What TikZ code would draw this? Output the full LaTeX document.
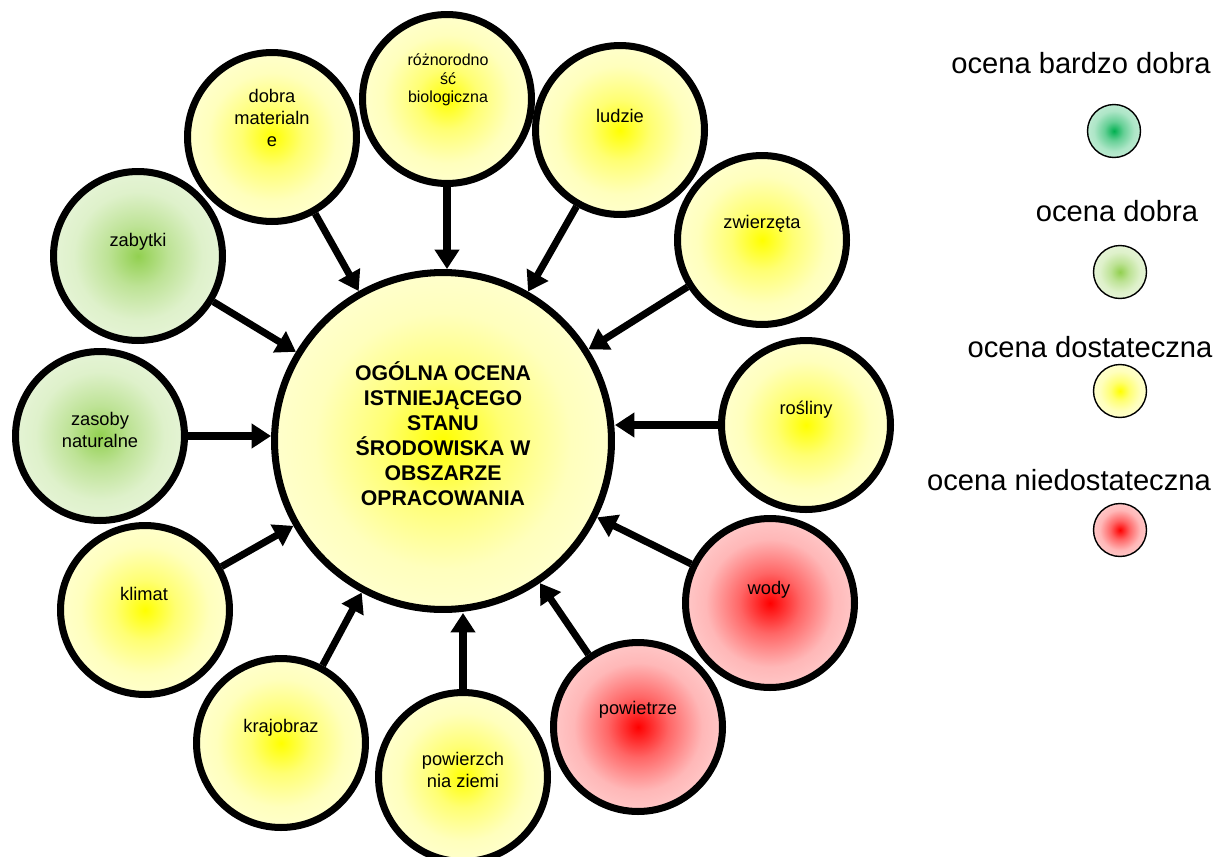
\documentclass[tikz,border=0pt]{standalone}
\usepackage{fontspec}
\setmainfont{Liberation Sans}
\usetikzlibrary{arrows.meta}

\definecolor{midyellow}{RGB}{255,255,0}
\definecolor{goodgreen}{RGB}{146,208,80}
\definecolor{bestgreen}{RGB}{0,176,80}
\definecolor{badred}{RGB}{255,0,0}

% radial fills, strong centre fading towards the rim
\pgfdeclareradialshading{sunshade}{\pgfpointorigin}{color(0bp)=(midyellow); color(9bp)=(midyellow!55); color(19bp)=(midyellow!26); color(25bp)=(midyellow!20); color(50bp)=(midyellow!20)}
\pgfdeclareradialshading{goodshade}{\pgfpointorigin}{color(0bp)=(goodgreen); color(9bp)=(goodgreen!60); color(19bp)=(goodgreen!30); color(25bp)=(goodgreen!24); color(50bp)=(goodgreen!24)}
\pgfdeclareradialshading{bestshade}{\pgfpointorigin}{color(0bp)=(bestgreen); color(9bp)=(bestgreen!60); color(19bp)=(bestgreen!32); color(25bp)=(bestgreen!26); color(50bp)=(bestgreen!26)}
\pgfdeclareradialshading{badshade}{\pgfpointorigin}{color(0bp)=(badred); color(9bp)=(badred!60); color(19bp)=(badred!28); color(25bp)=(badred!22); color(50bp)=(badred!22)}

\tikzset{
  hub/.style={circle,draw,line width=4pt,minimum size=6.74cm,shading=sunshade},
  hubtext/.style={align=center,font=\fontsize{12.1}{14.2}\selectfont\bfseries},
  bubble/.style={circle,draw,line width=4pt,minimum size=3.38cm},
  bubtext/.style={align=center,font=\fontsize{10.4}{12.5}\selectfont},
  feed/.style={line width=4pt,-{Triangle[length=11pt,width=13.5pt]}},
  dot/.style={circle,draw,line width=0.8pt,minimum size=1.06cm},
  legtext/.style={font=\fontsize{16.6}{20}\selectfont}
}

\begin{document}
\begin{tikzpicture}[x=0.02cm,y=-0.02cm]
\useasboundingbox (0,0) rectangle (1217,856);

% central circle
\node[hub] (main) at (443,441) {};
\node[hubtext] (main-txt) at (443,434) {OGÓLNA OCENA\\ISTNIEJĄCEGO\\STANU\\ŚRODOWISKA W\\OBSZARZE\\OPRACOWANIA};

% surrounding circles
\node[bubble,shading=sunshade] (dobra) at (272,137) {};
\node[bubtext] (dobra-txt) at (272,118) {dobra\\materialn\\e};

\node[bubble,shading=sunshade] (roznorodnosc) at (447,99) {};
\node[bubtext,font=\fontsize{9.1}{10.5}\selectfont] (roznorodnosc-txt) at (448,80) {różnorodno\\ść\\biologiczna};

\node[bubble,shading=sunshade] (ludzie) at (620,130) {};
\node[bubtext] (ludzie-txt) at (620,116) {ludzie};

\node[bubble,shading=sunshade] (zwierzeta) at (762,240) {};
\node[bubtext] (zwierzeta-txt) at (762,224) {zwierzęta};

\node[bubble,shading=sunshade] (rosliny) at (806,425) {};
\node[bubtext] (rosliny-txt) at (806,410) {rośliny};

\node[bubble,shading=badshade] (wody) at (770,603) {};
\node[bubtext] (wody-txt) at (769,590) {wody};

\node[bubble,shading=badshade] (powietrze) at (638,727) {};
\node[bubtext] (powietrze-txt) at (638,710) {powietrze};

\node[bubble,shading=sunshade] (ziemia) at (463,777) {};
\node[bubtext] (ziemia-txt) at (463,770) {powierzch\\nia ziemi};

\node[bubble,shading=sunshade] (krajobraz) at (281,743) {};
\node[bubtext] (krajobraz-txt) at (281,728) {krajobraz};

\node[bubble,shading=sunshade] (klimat) at (145,610) {};
\node[bubtext] (klimat-txt) at (144,594) {klimat};

\node[bubble,shading=goodshade] (zasoby) at (100,436) {};
\node[bubtext] (zasoby-txt) at (100,430) {zasoby\\naturalne};

\node[bubble,shading=goodshade] (zabytki) at (138,256) {};
\node[bubtext] (zabytki-txt) at (138,242) {zabytki};

% arrows into the centre
\draw[feed] (dobra) -- (main);
\draw[feed] (roznorodnosc.south) -- (roznorodnosc.south |- main.north);
\draw[feed] (ludzie) -- (main);
\draw[feed] (zwierzeta) -- (main);
\draw[feed] (rosliny.west) -- (rosliny.west -| main.east);
\draw[feed] (wody) -- (main);
\draw[feed] (powietrze) -- (main);
\draw[feed] (ziemia.north) -- (ziemia.north |- main.south);
\draw[feed] (krajobraz) -- (main);
\draw[feed] (klimat) -- (main);
\draw[feed] (zasoby.east) -- (zasoby.east -| main.west);
\draw[feed] (zabytki) -- (main);

% legend
\node[legtext] (leg-best) at (1081,63) {ocena bardzo dobra};
\node[dot,shading=bestshade] (dot-best) at (1114,131) {};
\node[legtext] (leg-good) at (1117,211) {ocena dobra};
\node[dot,shading=goodshade] (dot-good) at (1120,272) {};
\node[legtext] (leg-fair) at (1090,347) {ocena dostateczna};
\node[dot,shading=sunshade] (dot-fair) at (1120,391) {};
\node[legtext] (leg-poor) at (1069,480) {ocena niedostateczna};
\node[dot,shading=badshade] (dot-poor) at (1120,530) {};
\end{tikzpicture}
\end{document}
